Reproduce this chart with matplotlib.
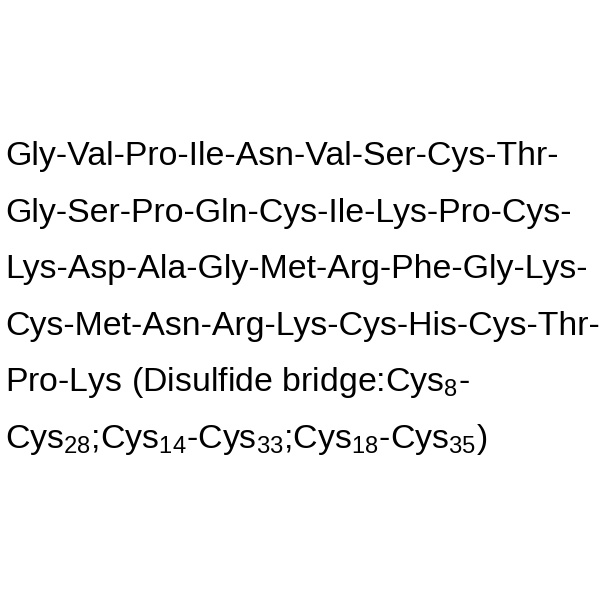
import matplotlib
matplotlib.use("Agg")
import matplotlib.pyplot as plt

plt.rcParams['font.family'] = ['Liberation Sans', 'DejaVu Sans']
plt.rcParams['mathtext.fontset'] = 'custom'
plt.rcParams['mathtext.rm'] = 'Liberation Sans'
plt.rcParams['mathtext.it'] = 'Liberation Sans'
plt.rcParams['mathtext.default'] = 'rm'

lines = [
    "Gly-Val-Pro-Ile-Asn-Val-Ser-Cys-Thr-",
    "Gly-Ser-Pro-Gln-Cys-Ile-Lys-Pro-Cys-",
    "Lys-Asp-Ala-Gly-Met-Arg-Phe-Gly-Lys-",
    "Cys-Met-Asn-Arg-Lys-Cys-His-Cys-Thr-",
    r"Pro-Lys (Disulfide bridge:Cys$_{8}$-",
    r"Cys$_{28}$;Cys$_{14}$-Cys$_{33}$;Cys$_{18}$-Cys$_{35}$)",
]
# baseline of each line, in pixels from the top
first_baseline = 165
line_step = 56.6

fig = plt.figure(figsize=(6, 6), dpi=100)
for i, txt in enumerate(lines):
    y = first_baseline + i * line_step
    fig.text(5 / 600, 1 - y / 600, txt, fontsize=24.4, color='black',
             ha='left', va='baseline')

fig.savefig("out.png", dpi=100, facecolor='white')
